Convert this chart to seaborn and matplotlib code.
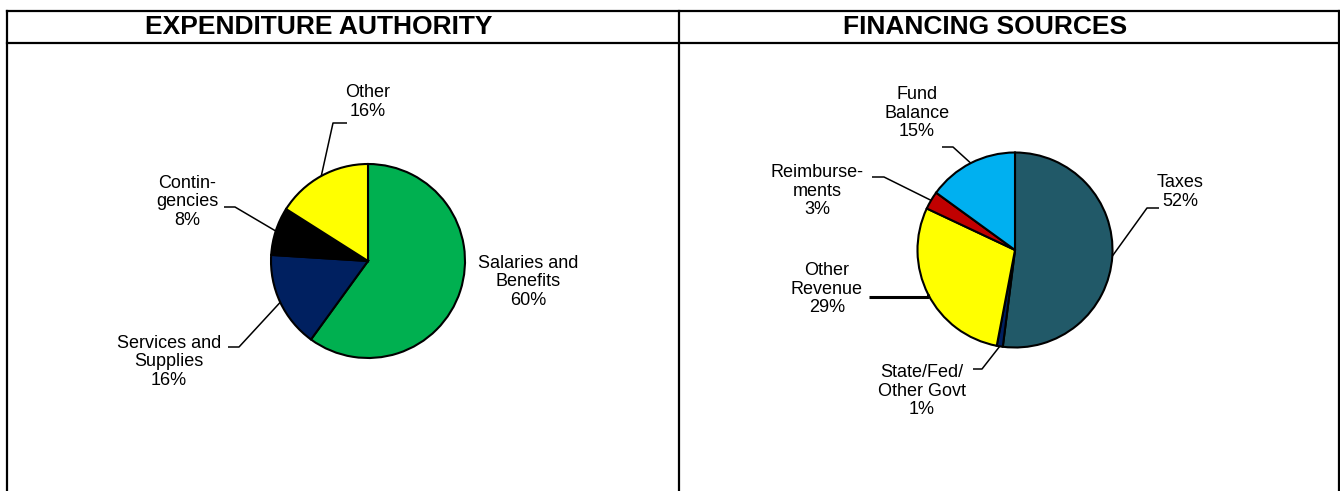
import numpy as np
import matplotlib
matplotlib.use("Agg")
import matplotlib.pyplot as plt
import seaborn as sns

# data
exp_labels = ["Salaries and\nBenefits", "Services and\nSupplies", "Contin-\ngencies", "Other"]
exp_values = [60, 16, 8, 16]
exp_colors = ["#00B050", "#002060", "#000000", "#FFFF00"]

fin_labels = ["Taxes", "State/Fed/\nOther Govt", "Other\nRevenue", "Reimburse-\nments", "Fund\nBalance"]
fin_values = [52, 1, 29, 3, 15]
fin_colors = ["#215968", "#002060", "#FFFF00", "#C00000", "#00B0F0"]

sns.set_theme(style="white")
plt.rcParams["font.family"] = ["Liberation Sans", "DejaVu Sans"]
plt.rcParams["text.color"] = "black"

W, H = 1340, 491
fig = plt.figure(figsize=(W / 100, H / 100), dpi=100)
ax = fig.add_axes([0, 0, 1, 1])


def draw_pie(values, colors, center, radius):
    # pixel coords with y pointing down -> start at -90 and go "counterclock" in data
    wedges, _ = ax.pie(values, colors=colors, startangle=-90, counterclock=True,
                       center=center, radius=radius,
                       wedgeprops=dict(edgecolor="black", linewidth=1.5))
    return wedges


def edge_point(w):
    mid = np.deg2rad((w.theta1 + w.theta2) / 2)
    return (w.center[0] + w.r * np.cos(mid), w.center[1] + w.r * np.sin(mid))


def label(w, text, value, pos, path=None, lw=1.1):
    ax.text(pos[0], pos[1], f"{text}\n{value}%", ha="center", va="center",
            multialignment="center", fontsize=13, linespacing=1.13, color="black")
    if path:
        x0, y0 = edge_point(w)
        xs = [x0] + [p[0] for p in path]
        ys = [y0] + [p[1] for p in path]
        ax.plot(xs, ys, color="black", lw=lw, solid_capstyle="butt")


# left pie
lw_ = draw_pie(exp_values, exp_colors, (368, 261), 97)
label(lw_[0], exp_labels[0], exp_values[0], (528, 282))
label(lw_[1], exp_labels[1], exp_values[1], (169, 362), [(239, 347), (228, 347)])
label(lw_[2], exp_labels[2], exp_values[2], (187, 202), [(235, 207), (224, 207)])
label(lw_[3], exp_labels[3], exp_values[3], (368, 102), [(333, 123), (347, 123)])

# right pie
rw = draw_pie(fin_values, fin_colors, (1015, 250), 97.5)
label(rw[0], fin_labels[0], fin_values[0], (1180, 192), [(1147, 208), (1159, 208)])
label(rw[1], fin_labels[1], fin_values[1], (922, 391), [(982, 369), (973, 369)])
ex, ey = edge_point(rw[2])
label(rw[2], fin_labels[2], fin_values[2], (827, 289), [(ex, 297), (869, 297)], lw=2.2)
label(rw[3], fin_labels[3], fin_values[3], (817, 191), [(884, 177), (872, 177)])
label(rw[4], fin_labels[4], fin_values[4], (917, 113), [(953, 147), (942, 147)])

# frame / header boxes
frame_kw = dict(color="black", lw=1.6, solid_capstyle="projecting")
ax.plot([7, 1339], [11, 11], **frame_kw)
ax.plot([7, 1339], [43, 43], **frame_kw)
for x in (7, 679, 1339):
    ax.plot([x, x], [11, H + 5], **frame_kw)

ax.text(319, 27, "EXPENDITURE AUTHORITY", ha="center", va="center",
        fontsize=19, fontweight="bold", color="black")
ax.text(985, 27, "FINANCING SOURCES", ha="center", va="center",
        fontsize=19, fontweight="bold", color="black")

ax.set_xlim(0, W)
ax.set_ylim(H, 0)
ax.set_aspect("auto")
ax.axis("off")

fig.savefig("out.png", dpi=100, facecolor="white")
plt.close(fig)
